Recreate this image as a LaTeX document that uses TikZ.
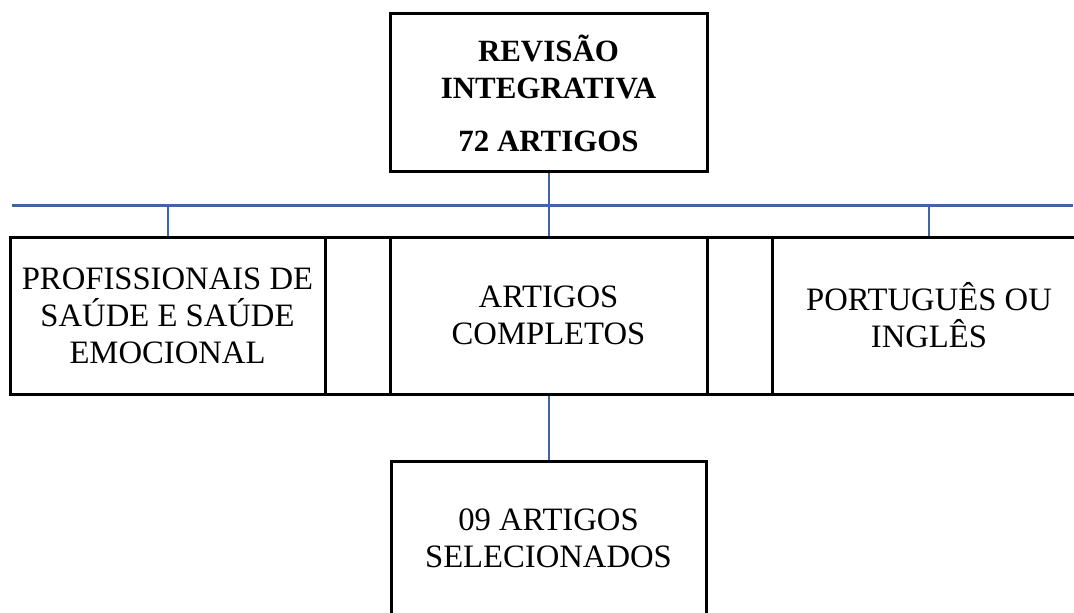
\documentclass[tikz,border=0pt]{standalone}
\usepackage{fontspec}
\setmainfont{Liberation Serif}
\usetikzlibrary{positioning}
\definecolor{linkblue}{RGB}{63,100,170}
\begin{document}
\begin{tikzpicture}[
    x=0.75pt, y=-0.75pt,
    box/.style={rectangle, draw, line width=2.25pt, outer sep=0pt, inner sep=0pt,
        minimum width=236.25pt, minimum height=117.75pt, align=center,
        font=\fontsize{24.5}{27.75}\selectfont},
    title/.style={box, minimum width=237.75pt, minimum height=118.5pt,
        font=\fontsize{23.2}{27.75}\selectfont\bfseries},
    spacer/.style={rectangle, draw, line width=2.25pt, outer sep=0pt,
        minimum width=48.75pt, minimum height=117.75pt},
    link/.style={draw=linkblue, line width=1.5pt,
        shorten >=1.125pt, shorten <=1.125pt}
]
\clip (0,0) rectangle (1074,613);
\node (Revisao) [title] at (548.5,93) {REVISÃO\\INTEGRATIVA\\[12pt]72 ARTIGOS};
\node (Completos) [box, minimum width=237.75pt] at (548.5,315.5) {ARTIGOS\\COMPLETOS};
\node (GapL) [spacer, left=0pt of Completos] {};
\node (Saude) [box, left=0pt of GapL] {PROFISSIONAIS DE\\SAÚDE E SAÚDE\\EMOCIONAL};
\node (GapR) [spacer, right=0pt of Completos] {};
\node (Idioma) [box, minimum width=235.5pt, right=0pt of GapR] {PORTUGUÊS OU\\INGLÊS};
\node (Selecionados) [box, minimum height=116.25pt, below=50.25pt of Completos] {09 ARTIGOS\\SELECIONADOS};

\coordinate (BusL) at (10,205);
\coordinate (BusR) at (1074,205);
\draw[link, line width=2.25pt] (BusL) -- (BusR);
\draw[link] (Revisao) -- (Completos);
\draw[link] (Saude.north |- BusL) -- (Saude.north);
\draw[link] (Idioma.north |- BusR) -- (Idioma.north);
\draw[link] (Completos) -- (Selecionados);
\end{tikzpicture}
\end{document}
